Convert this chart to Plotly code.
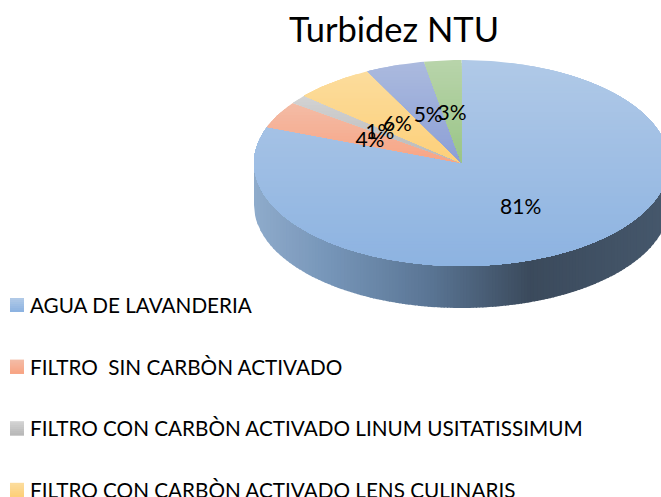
import numpy as np
import plotly.graph_objects as go

# ---- data ----
categories = [
    "AGUA DE LAVANDERIA",
    "FILTRO  SIN CARBÒN ACTIVADO",
    "FILTRO CON CARBÒN ACTIVADO LINUM USITATISSIMUM",
    "FILTRO CON CARBÒN ACTIVADO LENS CULINARIS",
    "(serie 5)",
    "(serie 6)",
]
values = [80.7, 4.2, 1.4, 6.2, 4.6, 2.9]
title_text = "Turbidez NTU"

# ---- styles ----
top_colors = ["#b0c9e7", "#f3bba5", "#d2d2d2", "#fcdc9c", "#abbade", "#b8d4aa"]
bot_colors = ["#8db3e1", "#f8a585", "#b9b9b9", "#fdd07a", "#8c9fd6", "#9ac587"]
side_stops = [(254, "#8fabcb"), (330, "#7695b8"), (430, "#5a7594"), (530, "#3b4a5c"), (661, "#45576b")]

W, H = 661, 497
CX, CY, RX, RY, DEPTH = 461.5, 163, 207.5, 103, 42
LABEL_R = 0.5
LABEL_DY = 3
FONT = "Lato"


def hex2rgb(h):
    return np.array([int(h[i:i + 2], 16) for i in (1, 3, 5)], float)


def mix(a, b, f):
    c = hex2rgb(a) * (1 - f) + hex2rgb(b) * f
    return "rgb(%d,%d,%d)" % tuple(np.round(c))


def ell(t, dy=0.0):
    return CX + RX * np.sin(t), CY - RY * np.cos(t) + dy


def clip_below(px, py, ymin):
    """Keep the polygon part with y >= ymin."""
    ox, oy = [], []
    n = len(px)
    for i in range(n):
        x0, y0, x1, y1 = px[i], py[i], px[(i + 1) % n], py[(i + 1) % n]
        if y0 >= ymin:
            ox.append(x0)
            oy.append(y0)
        if (y0 >= ymin) != (y1 >= ymin):
            f = (ymin - y0) / (y1 - y0)
            ox.append(x0 + f * (x1 - x0))
            oy.append(ymin)
    return ox, oy


def poly(x, y, color):
    return go.Scatter(x=list(x) + [x[0]], y=list(y) + [y[0]], mode="lines", fill="toself",
                      fillcolor=color, line=dict(width=0, color=color), hoverinfo="skip",
                      showlegend=False)


fig = go.Figure()

# side wall (front half of the disc)
edges = np.linspace(CX - RX, CX + RX, 130)
sx = [s[0] for s in side_stops]
for x0, x1 in zip(edges[:-1], edges[1:]):
    xm = (x0 + x1) / 2
    i = min(np.searchsorted(sx, xm, side="right") - 1, len(sx) - 2)
    i = max(i, 0)
    f = np.clip((xm - sx[i]) / (sx[i + 1] - sx[i]), 0, 1)
    col = mix(side_stops[i][1], side_stops[i + 1][1], f)
    xe1 = x1 + 1 if x1 < CX + RX else x1
    xs = np.linspace(x0, min(xe1, CX + RX), 5)
    ys = CY + RY * np.sqrt(np.clip(1 - ((xs - CX) / RX) ** 2, 0, 1))
    fig.add_trace(poly(list(xs) + list(xs[::-1]), list(ys) + list(ys[::-1] + DEPTH), col))

# top face, painted in overlapping horizontal bands for the gradient
total = sum(values)
cum = np.cumsum([0] + values) / total * 2 * np.pi
# fill order: the picture is read clockwise from 12 o'clock
for k, v in enumerate(values):
    t = np.linspace(cum[k], cum[k + 1], max(int(v * 4), 8))
    ax, ay = ell(t)
    px = [CX] + list(ax)
    py = [CY] + list(ay)
    ymin, ymax = min(py), max(py)
    n = max(int((ymax - ymin) / 3), 3)
    for j in range(n):
        yb = ymin + (ymax - ymin) * j / n
        cx_, cy_ = clip_below(px, py, yb)
        if len(cx_) >= 3:
            fig.add_trace(poly(cx_, cy_, mix(top_colors[k], bot_colors[k], j / max(n - 1, 1))))

# percentage labels
mids = (cum[:-1] + cum[1:]) / 2
lx = CX + LABEL_R * RX * np.sin(mids)
ly = CY - LABEL_R * RY * np.cos(mids) + LABEL_DY
pct = ["%d%%" % round(v / total * 100) for v in values]
order = [0, 5, 4, 3, 2, 1]
fig.add_trace(go.Scatter(x=lx[order], y=ly[order], mode="text", text=[pct[i] for i in order],
                         textposition="middle center",
                         textfont=dict(family=FONT, size=21, color="#000000"),
                         hoverinfo="skip", showlegend=False))

# legend (the two last entries fall outside the picture)
LEG_X0, LEG_Y0, LEG_DY, SW, LEG_TXT_DY = 10, 305, 61.6, 14, 3
for i in range(4):
    yc = LEG_Y0 + LEG_DY * i
    for j in range(7):
        y0 = yc - SW / 2 + SW * j / 7
        y1 = yc + SW / 2
        fig.add_trace(poly([LEG_X0, LEG_X0 + SW, LEG_X0 + SW, LEG_X0], [y0, y0, y1, y1],
                           mix(top_colors[i], bot_colors[i], j / 6)))
fig.add_trace(go.Scatter(x=[LEG_X0 + 20] * 4,
                         y=[LEG_Y0 + LEG_TXT_DY + LEG_DY * i for i in range(4)],
                         mode="text", text=categories[:4], textposition="middle right",
                         textfont=dict(family=FONT, size=20.7, color="#000000"),
                         hoverinfo="skip", showlegend=False))

fig.update_layout(
    width=W, height=H, margin=dict(l=0, r=0, t=0, b=0),
    paper_bgcolor="white", plot_bgcolor="white", showlegend=False,
    title=dict(text=title_text, x=394 / W, y=1 - 30 / H, xanchor="center", yanchor="middle",
               font=dict(family=FONT, size=34.5, color="#000000")),
    xaxis=dict(range=[0, W], visible=False, fixedrange=True),
    yaxis=dict(range=[H, 0], visible=False, fixedrange=True),
)
fig.write_html("out.html", config=dict(displayModeBar=False),
               post_script="document.body.style.margin='0';document.documentElement.style.overflow='hidden';")
